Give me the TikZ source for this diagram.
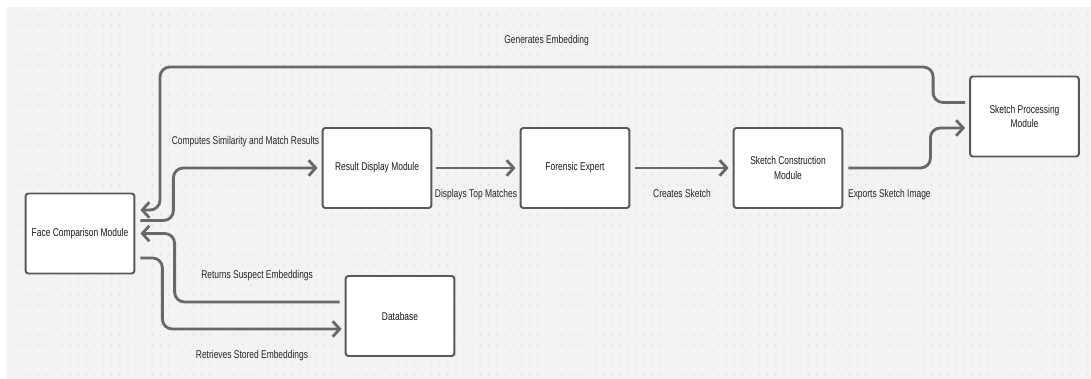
\documentclass[tikz,border=0pt]{standalone}
\usepackage{fontspec}
\setmainfont[FakeStretch=0.75]{Liberation Sans}
\usetikzlibrary{arrows.meta,calc,positioning}

\definecolor{paper}{HTML}{F3F3F3}
\definecolor{griddot}{HTML}{D2D2D2}
\definecolor{wire}{HTML}{686868}
\definecolor{frame}{HTML}{585858}

\tikzset{
	module/.style={draw=frame, fill=white, line width=1.4pt, rounded corners=2pt,
		minimum width=2.72cm, minimum height=2.0cm, align=center,
		font=\fontsize{8}{10.5}\selectfont, text=black!90},
	flow/.style={draw=wire, line width=2pt, rounded corners=7pt,
		-{Straight Barb[length=5pt,width=11pt]}},
	tag/.style={inner sep=0pt, font=\fontsize{8}{9}\selectfont, text=black!85}
}

\begin{document}
\begin{tikzpicture}[x=0.025cm, y=-0.025cm]
			%%%%% BACKGROUND %%%%%
			\useasboundingbox (0,0) rectangle (1091,379);
			\fill[white] (0,0) rectangle (1091,379);
			\fill[paper] (7,7) rectangle (1091,379);
			\foreach \i in {0,...,131}
				\foreach \j in {0,...,36}
					\fill[griddot] (13+8.2*\i, 15+10*\j) circle (0.7);
			
			%%%%% MODULES %%%%%
			\node[module] (fcm) at (80,233.5) {Face Comparison Module};
			\node[module] (rdm) at (377,168) {Result Display Module};
			\node[module] (fe) at (575,168) {Forensic Expert};
			\node[module] (scm) at (788,168) {Sketch Construction\\Module};
			\node[module] (spm) at (1024.5,116.5) {Sketch Processing\\Module};
			\node[module] (db) at (400,316) {Database};
			
			\coordinate (topbend) at (160,67);
			
			%%%%% CONNECTORS %%%%%
			\draw[flow] ($(spm.west)+(-4,-14)$) -- ++(-32,0) |- (topbend)
				node[tag, pos=0.75, above=0.5cm] {Generates Embedding}
				|- ($(fcm.east)+(5,-23.5)$);
			
			\draw[flow] ($(fcm.east)+(5,-13)$) -- ++(33,0) |- ($(rdm.west)+(-4,0)$)
				node[tag, pos=0.75, above=0.5cm] {Computes Similarity and Match Results};
			
			\draw[flow] ($(rdm.east)+(4,0)$) -- ($(fe.west)+(-4,0)$)
				node[tag, midway, below=0.5cm] {Displays Top Matches};
			
			\draw[flow] ($(fe.east)+(5,0)$) -- ($(scm.west)+(-4,0)$)
				node[tag, midway, below=0.5cm] {Creates Sketch};
			
			\draw[flow] ($(scm.east)+(5,0)$) -- ++(82,0)
				node[tag, midway, below=0.5cm] {Exports Sketch Image}
				|- ($(spm.west)+(-4,11.5)$);
			
			\draw[flow] ($(db.west)+(-5,-14)$) -- ++(-165,0)
				node[tag, midway, above=0.5cm] {Returns Suspect Embeddings}
				|- ($(fcm.east)+(5,0)$);
			
			\draw[flow] ($(fcm.east)+(5,24.5)$) -- ++(22,0) |- ($(db.west)+(-3,13)$)
				node[tag, pos=0.75, below=0.5cm] {Retrieves Stored Embeddings};
			
			%%%%% END %%%%%
\end{tikzpicture}
\end{document}
